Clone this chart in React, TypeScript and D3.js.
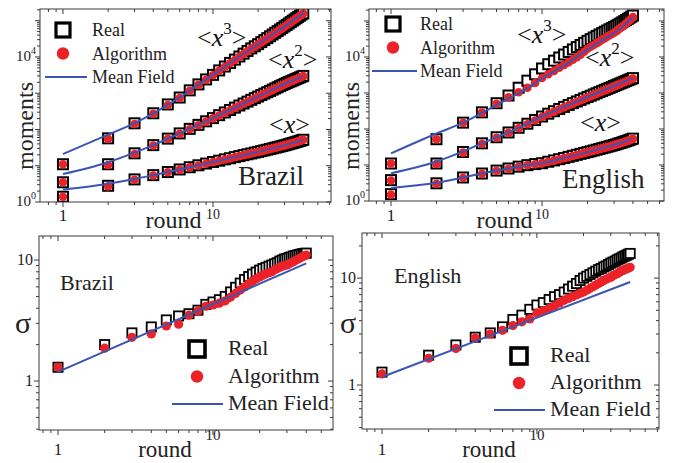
import React from "react";
import * as d3 from "d3";

const ROUNDS = [1, 2, 3, 4, 5, 6, 7, 8, 9, 10, 11, 12, 13, 14, 15, 16, 17, 18, 19, 20, 21, 22, 23, 24, 25, 26, 27, 28, 29, 30, 31, 32, 33, 34, 35, 36, 37, 38, 39, 40];
const MF_ROUNDS = [1, 2, 3, 4, 5, 6, 8, 10, 15, 20, 25, 30, 35, 40];
const SIGMA_MF_ROUNDS = [1, 40];

// Brazil moments
const BR_X_REAL = [1.4, 2.8, 4.2, 5.5, 6.7, 7.9, 9.1, 10.3, 11.5, 12.7, 13.8, 15.0, 16.1, 17.3, 18.4, 19.6, 20.7, 21.8, 23.0, 24.1, 25.3, 26.5, 27.7, 28.9, 30.1, 31.4, 32.6, 33.9, 35.2, 36.5, 37.9, 39.3, 40.8, 42.3, 43.8, 45.4, 47.0, 48.7, 50.4, 52.0];
const BR_X_ALG = [1.4, 2.7, 4.1, 5.4, 6.6, 7.8, 9.0, 10.2, 11.4, 12.6, 13.7, 14.9, 16.0, 17.2, 18.3, 19.5, 20.6, 21.7, 22.9, 24.0, 25.2, 26.4, 27.6, 28.8, 30.0, 31.3, 32.5, 33.8, 35.1, 36.4, 37.8, 39.2, 40.7, 42.2, 43.7, 45.3, 46.9, 48.6, 50.3, 51.9];
const BR_X2_REAL = [3.5, 11, 22, 37, 56, 78, 104, 134, 168, 206, 248, 295, 345, 400, 458, 520, 586, 656, 730, 808, 890, 975, 1065, 1158, 1255, 1356, 1460, 1568, 1680, 1795, 1905, 2015, 2130, 2250, 2370, 2490, 2615, 2740, 2870, 3000];
const BR_X2_ALG = [3.5, 10.5, 21, 36, 55, 76, 101, 131, 165, 202, 243, 290, 339, 393, 450, 511, 576, 645, 718, 795, 876, 960, 1048, 1140, 1236, 1336, 1438, 1545, 1655, 1768, 1877, 1986, 2100, 2218, 2337, 2456, 2580, 2703, 2830, 2960];
const BR_X3_REAL = [11, 57, 148, 280, 490, 760, 1200, 1750, 2400, 3200, 4250, 5450, 6850, 8450, 10300, 12350, 14650, 17200, 19700, 22500, 25700, 29200, 33000, 37100, 41600, 46400, 51600, 57200, 63200, 69600, 76400, 83700, 91400, 99600, 108300, 117500, 127200, 137400, 148200, 159500];
const BR_X3_ALG = [11, 55, 142, 272, 475, 740, 1170, 1700, 2340, 3120, 4150, 5330, 6700, 8270, 10100, 12100, 14350, 16850, 19300, 22050, 25200, 28600, 32350, 36400, 40800, 45500, 50600, 56100, 62000, 68300, 75000, 82200, 89800, 97900, 106500, 115600, 125200, 135300, 146000, 157200];
const BR_X_MF = [2.2, 3.2, 4.3, 5.5, 6.7, 7.9, 10.3, 12.7, 18.4, 24.1, 30.1, 36.5, 43.8, 52.0];
const BR_X2_MF = [5.9, 12.5, 23, 37, 56, 78, 134, 206, 458, 808, 1255, 1795, 2370, 3000];
const BR_X3_MF = [21, 72, 150, 280, 480, 760, 1750, 3200, 10300, 22500, 41600, 69600, 108300, 159500];

// English moments
const EN_X_REAL = [1.55, 3.1, 4.5, 5.8, 7.0, 8.0, 9.0, 9.9, 10.6, 11.2, 12.3, 13.4, 14.5, 15.6, 16.8, 18.0, 19.2, 20.4, 21.6, 22.8, 24.0, 25.3, 26.6, 27.9, 29.2, 30.5, 31.9, 33.2, 34.6, 36.0, 37.5, 39.1, 40.8, 42.5, 44.2, 46.0, 47.9, 49.9, 51.9, 54.0];
const EN_X_ALG = [1.5, 3.0, 4.4, 5.7, 6.9, 7.9, 8.9, 9.8, 10.5, 11.1, 12.2, 13.2, 14.3, 15.4, 16.5, 17.7, 18.9, 20.1, 21.3, 22.5, 23.7, 24.9, 26.2, 27.5, 28.8, 30.1, 31.4, 32.8, 34.1, 35.5, 37.0, 38.6, 40.2, 41.9, 43.6, 45.4, 47.2, 49.1, 51.1, 53.2];
const EN_X2_REAL = [3.8, 11, 23, 40, 59, 80, 108, 140, 178, 222, 266, 312, 360, 411, 465, 521, 580, 642, 706, 772, 840, 911, 984, 1060, 1138, 1218, 1300, 1385, 1472, 1562, 1654, 1748, 1845, 1944, 2045, 2148, 2254, 2362, 2472, 2585];
const EN_X2_ALG = [3.7, 10.7, 22, 39, 57, 78, 105, 136, 172, 215, 258, 303, 350, 399, 451, 506, 563, 623, 685, 749, 815, 884, 955, 1028, 1104, 1181, 1261, 1343, 1428, 1515, 1604, 1696, 1790, 1886, 1984, 2084, 2186, 2291, 2398, 2507];
const EN_X3_REAL = [11, 52, 150, 290, 520, 850, 1400, 2200, 3300, 4800, 6300, 7900, 9700, 11700, 13800, 16200, 18800, 21600, 24700, 28000, 31300, 34800, 38400, 42200, 46100, 50200, 54500, 58900, 63500, 68200, 73500, 79200, 85300, 91800, 98800, 106300, 114300, 122800, 131800, 141500];
const EN_X3_ALG = [11, 52, 148, 285, 500, 760, 1050, 1400, 1900, 2600, 3300, 4100, 5000, 6000, 7100, 8400, 9900, 11600, 14000, 17000, 19200, 21600, 24200, 27000, 30000, 33200, 36600, 40000, 43500, 47000, 52000, 57500, 63500, 70000, 77000, 85000, 94000, 104000, 115000, 128000];
const EN_X_MF = [2.3, 3.2, 4.5, 5.8, 7.0, 8.0, 9.9, 11.2, 16.8, 22.8, 29.2, 36.0, 44.2, 54.0];
const EN_X2_MF = [5.9, 12.5, 24, 40, 59, 80, 140, 222, 465, 772, 1138, 1562, 2045, 2585];
const EN_X3_MF = [21, 75, 150, 280, 460, 700, 1350, 2500, 7000, 16000, 29000, 46000, 76000, 127000];

// sigma
const BR_SIG_REAL = [1.3, 2.0, 2.5, 2.8, 3.2, 3.45, 3.6, 3.85, 4.3, 4.5, 4.7, 5.0, 5.45, 5.95, 6.45, 6.9, 7.3, 7.65, 7.95, 8.25, 8.5, 8.7, 8.9, 9.1, 9.3, 9.5, 9.8, 10.0, 10.2, 10.3, 10.5, 10.6, 10.8, 10.9, 11.0, 11.1, 11.2, 11.3, 11.35, 11.4];
const BR_SIG_ALG = [1.3, 1.87, 2.3, 2.45, 2.85, 2.95, 3.5, 3.8, 4.15, 4.25, 4.4, 4.6, 4.95, 5.3, 5.65, 6.0, 6.35, 6.7, 7.0, 7.25, 7.5, 7.7, 7.85, 8.0, 8.3, 8.5, 8.7, 8.9, 9.0, 9.1, 9.3, 9.5, 9.7, 9.9, 10.1, 10.3, 10.5, 10.7, 10.85, 11.0];
const BR_SIG_MF = [1.19, 9.4];
const EN_SIG_REAL = [1.32, 1.9, 2.37, 2.8, 3.07, 3.5, 4.1, 4.5, 5.1, 5.6, 5.9, 6.3, 6.7, 7.0, 7.4, 7.9, 8.4, 8.9, 9.5, 10.0, 10.4, 10.8, 11.2, 11.6, 12.0, 12.3, 12.7, 13.0, 13.4, 13.8, 14.1, 14.4, 14.8, 15.1, 15.4, 15.8, 16.1, 16.4, 16.7, 17.0];
const EN_SIG_ALG = [1.27, 1.78, 2.2, 2.75, 3.0, 3.25, 3.6, 3.9, 4.15, 4.7, 4.95, 5.2, 5.5, 5.85, 6.2, 6.45, 6.7, 6.95, 7.2, 7.4, 7.7, 8.0, 8.3, 8.6, 8.9, 9.2, 9.5, 9.75, 10.0, 10.2, 10.5, 10.8, 11.0, 11.3, 11.6, 11.8, 12.0, 12.2, 12.4, 12.6];
const EN_SIG_MF = [1.19, 9.2];

const RED = "#ec2229";
const BLUE = "#3a55b2";
const AXIS = "#3a3a3a";
const FONT = "'Liberation Serif', 'Times New Roman', serif";

type Frame = { x0: number; x1: number; y0: number; y1: number };

function logTicks(domain: number[]) {
  const out: { v: number; major: boolean }[] = [];
  const e0 = Math.floor(Math.log10(domain[0]));
  const e1 = Math.ceil(Math.log10(domain[1]));
  for (let e = e0; e <= e1; e++) {
    for (let k = 1; k <= 9; k++) {
      const v = k * Math.pow(10, e);
      if (v >= domain[0] && v <= domain[1]) out.push({ v, major: k === 1 });
    }
  }
  return out;
}

function Axes({ f, xs, ys }: { f: Frame; xs: any; ys: any }) {
  const xt = logTicks(xs.domain());
  const yt = logTicks(ys.domain());
  return (
    <g stroke={AXIS} strokeWidth={1} fill="none">
      <rect x={f.x0} y={f.y0} width={f.x1 - f.x0} height={f.y1 - f.y0} />
      {xt.map((t, i) => {
        const x = xs(t.v);
        const L = t.major ? 5 : 3;
        return (
          <g key={"x" + i}>
            <line x1={x} x2={x} y1={f.y1} y2={f.y1 + L} />
            <line x1={x} x2={x} y1={f.y0} y2={f.y0 + L} />
          </g>
        );
      })}
      {yt.map((t, i) => {
        const y = ys(t.v);
        const L = t.major ? 5 : 3;
        return (
          <g key={"y" + i}>
            <line x1={f.x0 - L} x2={f.x0} y1={y} y2={y} />
            <line x1={f.x1 - L} x2={f.x1} y1={y} y2={y} />
          </g>
        );
      })}
    </g>
  );
}

function Markers({ xs, ys, real, alg, sq, sw, r }: any) {
  return (
    <g>
      {real.map((vals: number[], k: number) =>
        vals.map((v, i) => (
          <rect key={"s" + k + "-" + i} x={xs(ROUNDS[i]) - sq / 2} y={ys(v) - sq / 2} width={sq} height={sq}
            fill="#fff" stroke="#000" strokeWidth={sw} />
        ))
      )}
      {alg.map((vals: number[], k: number) =>
        vals.map((v, i) => (
          <circle key={"c" + k + "-" + i} cx={xs(ROUNDS[i])} cy={ys(v)} r={r} fill={RED} />
        ))
      )}
    </g>
  );
}

function Legend({ x, y, gap, size, fontSize, lineX0, lineX1, textX }: any) {
  return (
    <g fontFamily={FONT} fontSize={fontSize} fill="#222">
      <rect x={x - size / 2} y={y - size / 2} width={size} height={size} fill="#fff" stroke="#000" strokeWidth={size > 15 ? 3.6 : 3.2} />
      <circle cx={x} cy={y + gap} r={6.2} fill={RED} />
      <line x1={lineX0} x2={lineX1} y1={y + 2 * gap} y2={y + 2 * gap} stroke={BLUE} strokeWidth={2} />
      <text x={textX} y={y + 6}>Real</text>
      <text x={textX} y={y + gap + 6}>Algorithm</text>
      <text x={textX} y={y + 2 * gap + 6}>Mean Field</text>
    </g>
  );
}

function Moment({ x, y, power }: { x: number; y: number; power: string }) {
  return (
    <text x={x} y={y} fontFamily={FONT} fontSize={26} fill="#111">
      {"<"}
      <tspan fontStyle="italic">x</tspan>
      {power ? <tspan fontSize={17} dy={-12}>{power}</tspan> : null}
      {power ? <tspan dy={12}>{">"}</tspan> : ">"}
    </text>
  );
}

function MomentsPanel({ id, f, xd, yd, real, alg, mf, name, nameX, nameY, labels, legend, momentsX }: any) {
  const xs = d3.scaleLog().domain(xd).range([f.x0, f.x1]);
  const ys = d3.scaleLog().domain(yd).range([f.y1, f.y0]);
  const line = d3.line<number>().x((_, i) => xs(MF_ROUNDS[i])).y((d) => ys(d)).curve(d3.curveMonotoneX);
  return (
    <g>
      <defs>
        <clipPath id={id}>
          <rect x={f.x0} y={f.y0} width={f.x1 - f.x0} height={f.y1 - f.y0} />
        </clipPath>
      </defs>
      <g clipPath={`url(#${id})`}>
        <Markers xs={xs} ys={ys} real={real} alg={alg} sq={10} sw={2} r={4.3} />
        {mf.map((vals: number[], k: number) => (
          <path key={k} d={line(vals) || ""} fill="none" stroke={BLUE} strokeWidth={2} />
        ))}
      </g>
      <Axes f={f} xs={xs} ys={ys} />
      <g fontFamily={FONT} fill="#222">
        <text x={xs(1)} y={221} fontSize={17} textAnchor="middle">1</text>
        <text x={xs(10)} y={219} fontSize={14} textAnchor="middle">10</text>
        {[1, 10000].map((v) => (
          <text key={v} x={f.x0 - 4} y={ys(v) + 4} fontSize={15} textAnchor="end">
            10<tspan fontSize={10} dy={-7}>{v === 1 ? "0" : "4"}</tspan>
          </text>
        ))}
        <text x={(f.x0 + f.x1) / 2 - 12} y={228} fontSize={24} textAnchor="middle">round</text>
        <text transform={`translate(${momentsX},126) rotate(-90)`} fontSize={24} textAnchor="middle">moments</text>
        <text x={nameX} y={nameY} fontSize={27}>{name}</text>
      </g>
      <Moment x={labels[0][0]} y={labels[0][1]} power="3" />
      <Moment x={labels[1][0]} y={labels[1][1]} power="2" />
      <Moment x={labels[2][0]} y={labels[2][1]} power="" />
      <Legend {...legend} size={14} fontSize={18} />
    </g>
  );
}

function SigmaPanel({ id, f, xd, yd, real, alg, mf, name, nameX, nameY, legend, sigmaX, roundX }: any) {
  const xs = d3.scaleLog().domain(xd).range([f.x0, f.x1]);
  const ys = d3.scaleLog().domain(yd).range([f.y1, f.y0]);
  const line = d3.line<number>().x((_, i) => xs(SIGMA_MF_ROUNDS[i])).y((d) => ys(d));
  return (
    <g>
      <defs>
        <clipPath id={id}>
          <rect x={f.x0} y={f.y0} width={f.x1 - f.x0} height={f.y1 - f.y0} />
        </clipPath>
      </defs>
      <g clipPath={`url(#${id})`}>
        <Markers xs={xs} ys={ys} real={[real]} alg={[alg]} sq={9.2} sw={1.8} r={4.6} />
        <path d={line(mf) || ""} fill="none" stroke={BLUE} strokeWidth={2} />
      </g>
      <Axes f={f} xs={xs} ys={ys} />
      <g fontFamily={FONT} fill="#222">
        <text x={xs(1)} y={455} fontSize={17} textAnchor="middle">1</text>
        <text x={xs(10)} y={440} fontSize={15} textAnchor="middle">10</text>
        <text x={f.x0 - 6} y={ys(10) + 5} fontSize={16} textAnchor="end">10</text>
        <text x={f.x0 - 6} y={ys(1) + 5} fontSize={16} textAnchor="end">1</text>
        <text x={roundX} y={457} fontSize={23} textAnchor="middle">round</text>
        <text x={sigmaX} y={333} fontSize={30}>σ</text>
        <text x={nameX} y={nameY} fontSize={22}>{name}</text>
      </g>
      <Legend {...legend} size={16} fontSize={22} />
    </g>
  );
}

export default function App() {
  return (
    <div style={{ position: "absolute", left: 0, top: 0, background: "#fff" }}>
      <svg width={677} height={463} style={{ display: "block" }}>
        <rect width={677} height={463} fill="#fff" />
        <MomentsPanel
          id="clip-tl"
          f={{ x0: 40, x1: 331, y0: 9, y1: 202 }}
          xd={[0.703, 61.2]}
          yd={[1, 2.1e5]}
          real={[BR_X_REAL, BR_X2_REAL, BR_X3_REAL]}
          alg={[BR_X_ALG, BR_X2_ALG, BR_X3_ALG]}
          mf={[BR_X_MF, BR_X2_MF, BR_X3_MF]}
          name="Brazil" nameX={238} nameY={185}
          labels={[[197, 46], [268, 68], [269, 133]]}
          momentsX={33}
          legend={{ x: 63, y: 30, gap: 23.5, lineX0: 45, lineX1: 87, textX: 92 }}
        />
        <MomentsPanel
          id="clip-tr"
          f={{ x0: 369, x1: 664, y0: 9, y1: 201 }}
          xd={[0.715, 64.2]}
          yd={[1, 2.15e5]}
          real={[EN_X_REAL, EN_X2_REAL, EN_X3_REAL]}
          alg={[EN_X_ALG, EN_X2_ALG, EN_X3_ALG]}
          mf={[EN_X_MF, EN_X2_MF, EN_X3_MF]}
          name="English" nameX={562} nameY={188}
          labels={[[517, 43], [585, 66], [580, 131]]}
          momentsX={359}
          legend={{ x: 393, y: 24, gap: 23.5, lineX0: 372, lineX1: 417, textX: 420 }}
        />
        <SigmaPanel
          id="clip-bl"
          f={{ x0: 39, x1: 333, y0: 236, y1: 430 }}
          xd={[0.754, 59.5]}
          yd={[0.394, 15.8]}
          real={BR_SIG_REAL}
          alg={BR_SIG_ALG}
          mf={BR_SIG_MF}
          name="Brazil" nameX={60} nameY={290}
          sigmaX={15} roundX={165}
          legend={{ x: 197, y: 349, gap: 27.5, lineX0: 172, lineX1: 223, textX: 228 }}
        />
        <SigmaPanel
          id="clip-br"
          f={{ x0: 362, x1: 659, y0: 233, y1: 429 }}
          xd={[0.743, 61.4]}
          yd={[0.388, 26.4]}
          real={EN_SIG_REAL}
          alg={EN_SIG_ALG}
          mf={EN_SIG_MF}
          name="English" nameX={394} nameY={283}
          sigmaX={340} roundX={489}
          legend={{ x: 519, y: 356, gap: 27, lineX0: 494, lineX1: 545, textX: 550 }}
        />
      </svg>
    </div>
  );
}
